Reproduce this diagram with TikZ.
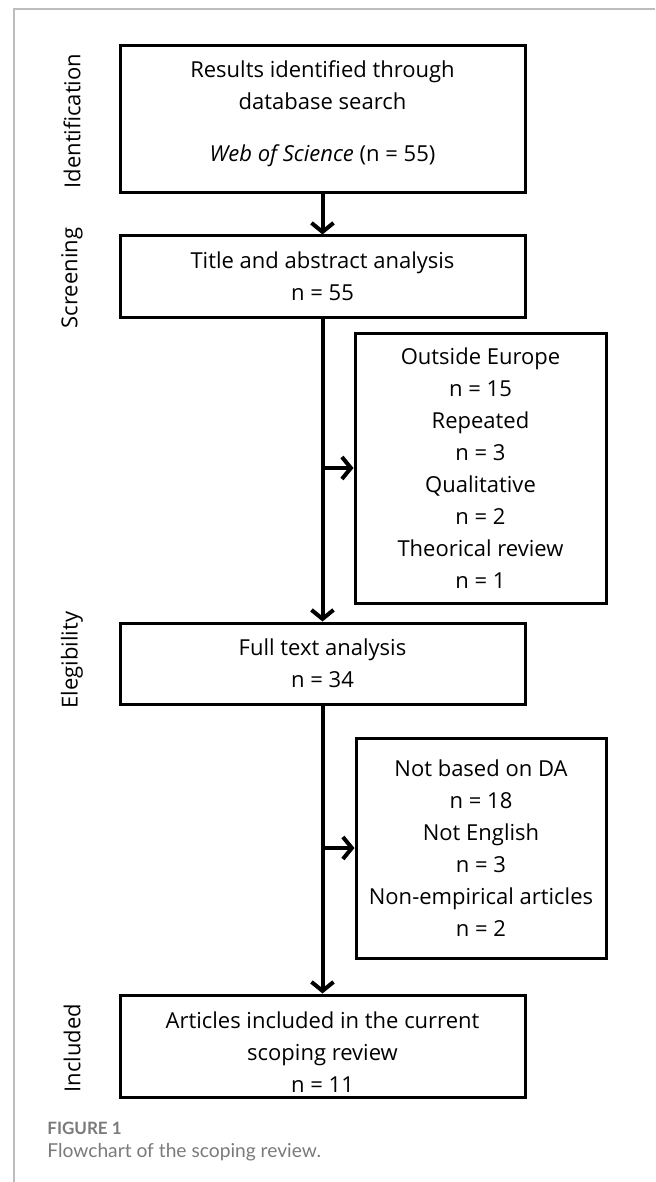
\documentclass[tikz,border=0pt]{standalone}
\usepackage{fontspec}
\setmainfont{Open Sans}
\newfontfamily\capfont{Lato}
\usepackage{tikz}
\usetikzlibrary{arrows.meta}
\definecolor{framegray}{HTML}{BDBDBD}
\definecolor{capgray}{HTML}{7A7A7A}
\tikzstyle{box}=[rectangle, draw=black, line width=1.5pt, align=center, inner sep=0pt, font=\fontsize{11}{16}\selectfont]
\tikzstyle{stage}=[rotate=90, inner sep=0pt, font=\fontsize{11}{16}\selectfont]
\tikzstyle{arrow}=[draw=black, line width=2pt, -{Straight Barb[length=4.5pt,width=11pt]}]

\begin{document}
\begin{tikzpicture}[x=0.5pt, y=-0.5pt]
	\useasboundingbox (0,0) rectangle (655,1182);
	\draw[framegray, line width=0.6pt] (14,1182) -- (14,9) -- (655,9);
	\begin{scope}
		\node (1) at (322.5, 119.5) [box, minimum width=202.5pt, minimum height=73.5pt] {Results identified through\\database search\\[10pt]\textit{Web of Science} (n = 55)\\[-8pt]\mbox{}};
		\node (2) at (322.5, 276.5) [box, minimum width=202.5pt, minimum height=40.5pt] {Title and abstract analysis\\n = 55};
		\node (3) at (322.5, 663.5) [box, minimum width=202.5pt, minimum height=40.5pt] {Full text analysis\\n = 34};
		\node (4) at (322.5, 1046) [box, minimum width=202.5pt, minimum height=51pt] {\mbox{}\\[-2pt]Articles included in the current\\scoping review\\n = 11};

		\node (x1) at (480.5, 468) [box, minimum width=125.5pt, minimum height=135pt] {Outside Europe\\n = 15\\Repeated\\n = 3\\Qualitative\\n = 2\\Theorical review\\n = 1};
		\node (x2) at (481, 848) [box, minimum width=125pt, minimum height=110pt] {Not based on DA\\n = 18\\Not English\\n = 3\\Non-empirical articles\\n = 2};

		\node (l1) at (72, 121) [stage] {Identification};
		\node (l2) at (72, 278) [stage] {Screening};
		\node (l3) at (72, 660) [stage] {Elegibility};
		\node (l4) at (72, 1048) [stage] {Included};

		\node (c1) at (47, 1134) [anchor=base west, inner sep=0pt, text=capgray, font=\capfont\bfseries\fontsize{8.5}{10}\selectfont] {FIGURE 1};
		\node (c2) at (47, 1157) [anchor=base west, inner sep=0pt, text=capgray, font=\capfont\fontsize{9.6}{12}\selectfont] {Flowchart of the scoping review.};
	\end{scope}
	\begin{scope}
		\path (1) edge [arrow] (2);
		\path (2) edge [arrow] (3);
		\path (3) edge [arrow] (4);

		\path (2.south |- x1.west) edge [arrow] (x1.west);
		\path (3.south |- x2.west) edge [arrow] (x2.west);
	\end{scope}
\end{tikzpicture}
\end{document}
